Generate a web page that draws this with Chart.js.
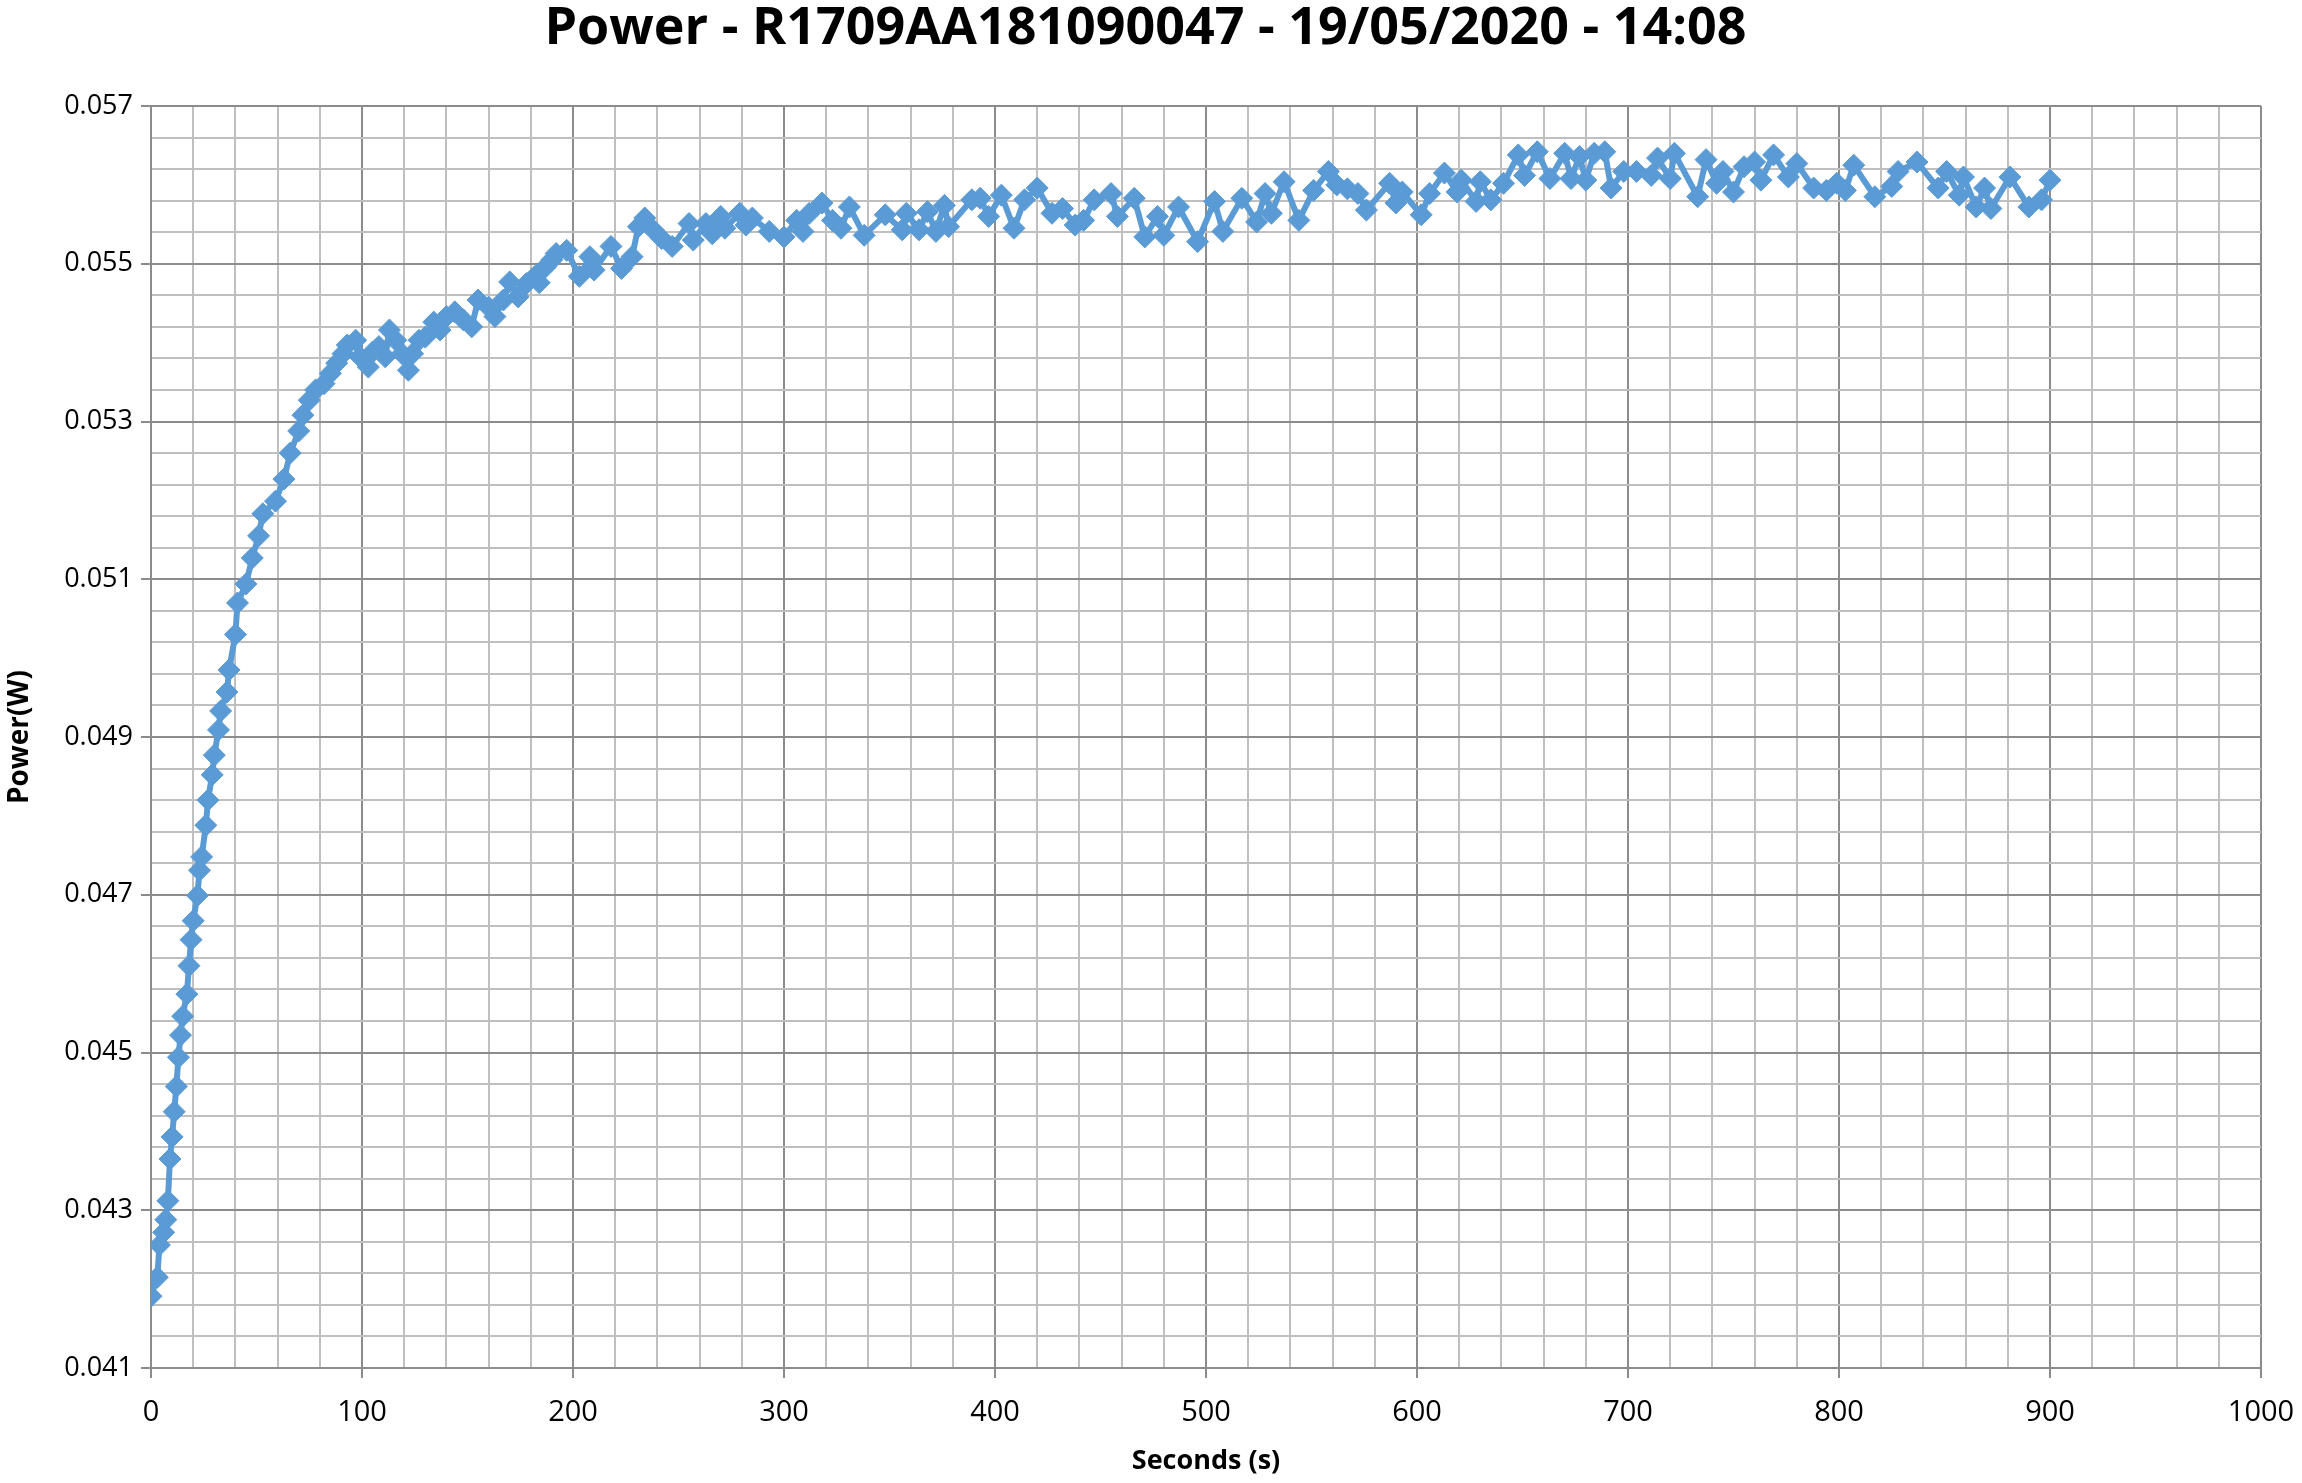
<!DOCTYPE html>
<html>
<head>
<meta charset="utf-8">
<title>Power - R1709AA181090047</title>
<script src="https://cdn.jsdelivr.net/npm/chart.js@4"></script>
<style>
  html, body { margin: 0; padding: 0; background: #ffffff; }
  #wrap { width: 2302px; height: 1483px; }
</style>
</head>
<body>
<div id="wrap"><canvas id="power-chart"></canvas></div>
<script>
// Values
var chartTitle = 'Power - R1709AA181090047 - 19/05/2020 - 14:08';
var xTitle = 'Seconds (s)';
var yTitle = 'Power(W)';

var seconds = [
  0, 3, 4, 6, 7, 8, 9, 10, 11, 12,
  13, 14, 15, 17, 18, 19, 20, 22, 23, 24,
  26, 27, 29, 30, 32, 33, 36, 37, 40, 41,
  45, 48, 51, 53, 59, 63, 66, 70, 72, 75,
  78, 82, 85, 88, 91, 93, 97, 99, 103, 105,
  108, 111, 113, 116, 119, 122, 124, 127, 130, 134,
  137, 140, 144, 148, 152, 155, 160, 163, 167, 170,
  174, 178, 182, 184, 187, 190, 192, 197, 203, 208,
  210, 218, 223, 228, 231, 234, 238, 242, 247, 255,
  257, 263, 266, 270, 272, 279, 282, 285, 293, 300,
  306, 309, 312, 318, 323, 327, 331, 338, 348, 356,
  358, 364, 368, 372, 376, 378, 389, 393, 397, 403,
  409, 414, 420, 427, 432, 438, 442, 447, 455, 458,
  466, 471, 477, 480, 487, 496, 504, 508, 517, 524,
  528, 531, 537, 544, 551, 558, 562, 567, 572, 576,
  587, 590, 593, 602, 606, 613, 619, 621, 628, 630,
  635, 641, 648, 651, 657, 663, 670, 673, 677, 680,
  684, 689, 692, 698, 704, 711, 714, 720, 722, 733,
  737, 742, 745, 750, 755, 760, 763, 769, 776, 780,
  788, 794, 799, 803, 807, 817, 825, 828, 837, 847,
  851, 857, 859, 865, 869, 872, 881, 890, 896, 900
];

var power = [
  0.04191, 0.04215, 0.04256, 0.04272, 0.04288, 0.04312, 0.04365, 0.04393, 0.04425, 0.04457,
  0.04494, 0.04522, 0.04546, 0.04574, 0.04610, 0.04643, 0.04667, 0.04699, 0.04731, 0.04748,
  0.04788, 0.04820, 0.04852, 0.04877, 0.04909, 0.04933, 0.04957, 0.04985, 0.05030, 0.05070,
  0.05094, 0.05127, 0.05155, 0.05183, 0.05199, 0.05227, 0.05260, 0.05288, 0.05308, 0.05327,
  0.05340, 0.05348, 0.05361, 0.05374, 0.05386, 0.05397, 0.05403, 0.05382, 0.05369, 0.05388,
  0.05395, 0.05382, 0.05416, 0.05403, 0.05386, 0.05365, 0.05386, 0.05403, 0.05407, 0.05426,
  0.05416, 0.05433, 0.05439, 0.05429, 0.05420, 0.05454, 0.05445, 0.05433, 0.05454, 0.05477,
  0.05458, 0.05475, 0.05484, 0.05476, 0.05496, 0.05505, 0.05513, 0.05517, 0.05484, 0.05509,
  0.05492, 0.05522, 0.05494, 0.05509, 0.05547, 0.05558, 0.05543, 0.05532, 0.05522, 0.05551,
  0.05530, 0.05551, 0.05538, 0.05560, 0.05545, 0.05564, 0.05549, 0.05558, 0.05541, 0.05534,
  0.05555, 0.05541, 0.05564, 0.05577, 0.05555, 0.05545, 0.05572, 0.05536, 0.05562, 0.05543,
  0.05564, 0.05543, 0.05566, 0.05541, 0.05574, 0.05547, 0.05581, 0.05583, 0.05560, 0.05587,
  0.05545, 0.05581, 0.05596, 0.05564, 0.05570, 0.05549, 0.05555, 0.05581, 0.05589, 0.05560,
  0.05583, 0.05534, 0.05560, 0.05536, 0.05572, 0.05528, 0.05579, 0.05541, 0.05583, 0.05553,
  0.05589, 0.05564, 0.05604, 0.05555, 0.05593, 0.05617, 0.05600, 0.05595, 0.05589, 0.05568,
  0.05602, 0.05577, 0.05591, 0.05562, 0.05589, 0.05615, 0.05591, 0.05606, 0.05579, 0.05604,
  0.05581, 0.05602, 0.05638, 0.05612, 0.05642, 0.05608, 0.05640, 0.05608, 0.05636, 0.05606,
  0.05640, 0.05642, 0.05596, 0.05617, 0.05617, 0.05612, 0.05634, 0.05608, 0.05640, 0.05585,
  0.05632, 0.05602, 0.05617, 0.05591, 0.05623, 0.05629, 0.05606, 0.05638, 0.05610, 0.05627,
  0.05596, 0.05593, 0.05602, 0.05593, 0.05625, 0.05585, 0.05598, 0.05617, 0.05629, 0.05596,
  0.05617, 0.05587, 0.05610, 0.05572, 0.05596, 0.05570, 0.05610, 0.05572, 0.05581, 0.05606
];

var xMin = 0, xMax = 1000, xMinor = 20;
var yMin = 0.041, yMax = 0.057, yMinor = 0.0004;

var FONT = '"Open Sans", "DejaVu Sans", sans-serif';
var majorColor = '#8c8c8c';
var minorColor = '#bfbfbf';

function createPowerChart() {
  var ctx = document.getElementById('power-chart').getContext('2d');

  var points = seconds.map(function (s, i) {
    return { x: s, y: power[i] };
  });

  // every 5th tick is a major one (labelled, darker line, tick mark)
  function isMajor(c) { return c.index % 5 === 0; }

  new Chart(ctx, {
    type: 'scatter',
    data: {
      datasets: [{
        label: yTitle,
        data: points,
        showLine: true,
        borderColor: '#5b9bd5',
        backgroundColor: '#5b9bd5',
        borderWidth: 6,
        pointStyle: 'rectRot',
        pointRadius: 11,
        pointBorderWidth: 1,
        tension: 0
      }]
    },
    options: {
      responsive: true,
      maintainAspectRatio: false,
      animation: false,
      layout: { padding: { left: 30, right: 41, top: 0, bottom: 0 } },
      scales: {
        x: {
          type: 'linear',
          min: xMin,
          max: xMax,
          afterFit: function (scale) {
            scale.height = 115;
            scale.paddingLeft = 0;
            scale.paddingRight = 0;
          },
          ticks: {
            stepSize: xMinor,
            autoSkip: false,
            maxRotation: 0,
            padding: 17,
            color: '#000',
            font: { family: FONT, size: 29 },
            callback: function (value, index) {
              return index % 5 === 0 ? String(value) : '';
            }
          },
          grid: {
            color: function (c) { return isMajor(c) ? majorColor : minorColor; },
            lineWidth: 2,
            tickLength: 10,
            tickColor: function (c) { return isMajor(c) ? majorColor : 'rgba(0,0,0,0)'; },
            tickWidth: 2
          },
          border: { color: majorColor, width: 2 },
          title: {
            display: true,
            text: xTitle,
            color: '#000',
            font: { family: FONT, size: 27, weight: 'bold' },
            padding: { top: 0, bottom: 5 }
          }
        },
        y: {
          type: 'linear',
          min: yMin,
          max: yMax,
          afterFit: function (scale) { scale.width = 121; },
          ticks: {
            stepSize: yMinor,
            autoSkip: false,
            padding: 8,
            color: '#000',
            font: { family: FONT, size: 27 },
            callback: function (value, index) {
              return index % 5 === 0 ? value.toFixed(3) : '';
            }
          },
          grid: {
            color: function (c) { return isMajor(c) ? majorColor : minorColor; },
            lineWidth: 2,
            tickLength: 10,
            tickColor: function (c) { return isMajor(c) ? majorColor : 'rgba(0,0,0,0)'; },
            tickWidth: 2
          },
          border: { color: majorColor, width: 2 },
          title: {
            display: true,
            text: yTitle,
            color: '#000',
            font: { family: FONT, size: 28, weight: 'bold', lineHeight: 1 },
            // pulls the rotated title back to the left edge of the canvas
            padding: { top: -24, bottom: 0 }
          }
        }
      },
      plugins: {
        legend: { display: false },
        tooltip: { enabled: false },
        title: {
          display: true,
          text: chartTitle,
          color: '#000',
          font: { family: FONT, size: 52, weight: 'bold', lineHeight: 1 },
          padding: { top: 3, bottom: 51 }
        }
      }
    }
  });
}

document.addEventListener('DOMContentLoaded', function () {
  createPowerChart();
});
</script>
</body>
</html>
